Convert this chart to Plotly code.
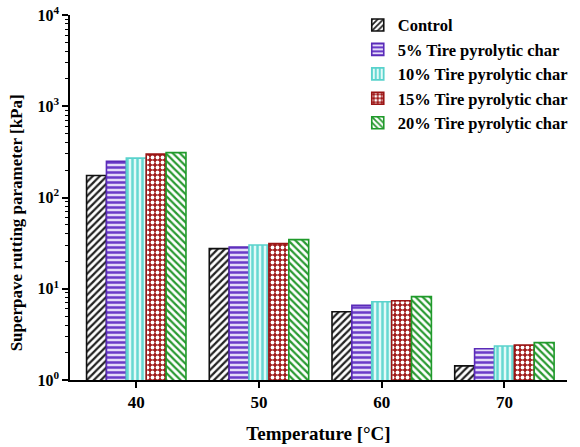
import plotly.graph_objects as go

temperatures = ["40", "50", "60", "70"]
series_names = ["Control", "5% Tire pyrolytic char", "10% Tire pyrolytic char",
                "15% Tire pyrolytic char", "20% Tire pyrolytic char"]
control = [174, 27.5, 5.6, 1.43]
tpc5 = [249, 28.7, 6.6, 2.2]
tpc10 = [270, 30.2, 7.2, 2.36]
tpc15 = [299, 31.2, 7.4, 2.42]
tpc20 = [310, 34.5, 8.2, 2.57]
values = [control, tpc5, tpc10, tpc15, tpc20]

y_tickvals = [1, 10, 100, 1000, 10000]
y_ticktext = ["10<sup>0</sup>", "10<sup>1</sup>", "10<sup>2</sup>", "10<sup>3</sup>", "10<sup>4</sup>"]

styles = [
    dict(line="#111111", shape="/", fg="#222222", bg="#ffffff", solidity=0.45),
    dict(line="#5a2bb8", shape="-", fg="#6a3cc8", bg="#e4dcf8", solidity=0.5),
    dict(line="#59d2cc", shape="|", fg="#66d8d2", bg="#e2faf8", solidity=0.5),
    dict(line="#9a1515", shape=".", fg="#ffffff", bg="#a01a1a", solidity=0.45),
    dict(line="#1f9a2a", shape="\\", fg="#2a9a32", bg="#ffffff", solidity=0.45),
]

font_family = "Liberation Serif"

fig = go.Figure()
for name, vals, st in zip(series_names, values, styles):
    fig.add_trace(go.Bar(
        x=temperatures, y=vals, name=name,
        marker=dict(
            color=st["bg"],
            line=dict(color=st["line"], width=1.6),
            pattern=dict(shape=st["shape"], fgcolor=st["fg"], bgcolor=st["bg"],
                         size=5, solidity=st["solidity"], fillmode="replace"),
        ),
    ))

fig.update_layout(
    width=580, height=447,
    margin=dict(l=70, r=13, t=15, b=67, autoexpand=False),
    paper_bgcolor="white", plot_bgcolor="white",
    barmode="group", bargap=0.19, bargroupgap=0,
    font=dict(family=font_family, size=14, color="black"),
    showlegend=True,
    legend=dict(x=0.579, y=1.02, xanchor="left", yanchor="top",
                font=dict(family=font_family, size=16.5, color="black", weight="bold"),
                bgcolor="rgba(0,0,0,0)", tracegroupgap=0, itemwidth=30),
    annotations=[dict(
        text="<b>Superpave rutting parameter [kPa]</b>", textangle=-90,
        xref="paper", yref="paper", x=-0.108, y=0.43, xanchor="center", yanchor="middle",
        showarrow=False, font=dict(family=font_family, size=17, color="black"),
    )],
)
fig.update_xaxes(
    range=[-0.54, 3.51], showline=True, linecolor="black", linewidth=1.5,
    ticks="outside", ticklen=6, tickwidth=1.5, tickcolor="black", automargin=False,
    tickfont=dict(family=font_family, size=17, weight="bold"),
    title=dict(text="Temperature [°C]", font=dict(family=font_family, size=19, weight="bold"), standoff=16),
    showgrid=False, zeroline=False,
)
minor_vals = [m * 10 ** d for d in range(0, 4) for m in range(2, 10)]
fig.update_yaxes(
    type="log", range=[0, 4], showline=True, linecolor="black", linewidth=1.5,
    tickvals=y_tickvals, ticktext=y_ticktext, automargin=False,
    ticks="outside", ticklen=6, tickwidth=1.5, tickcolor="black",
    minor=dict(tickvals=minor_vals, ticks="outside", ticklen=3, tickwidth=1, tickcolor="black", showgrid=False),
    tickfont=dict(family=font_family, size=16, weight="bold"),
    showgrid=False, zeroline=False,
)

fig.write_html("out.html")
